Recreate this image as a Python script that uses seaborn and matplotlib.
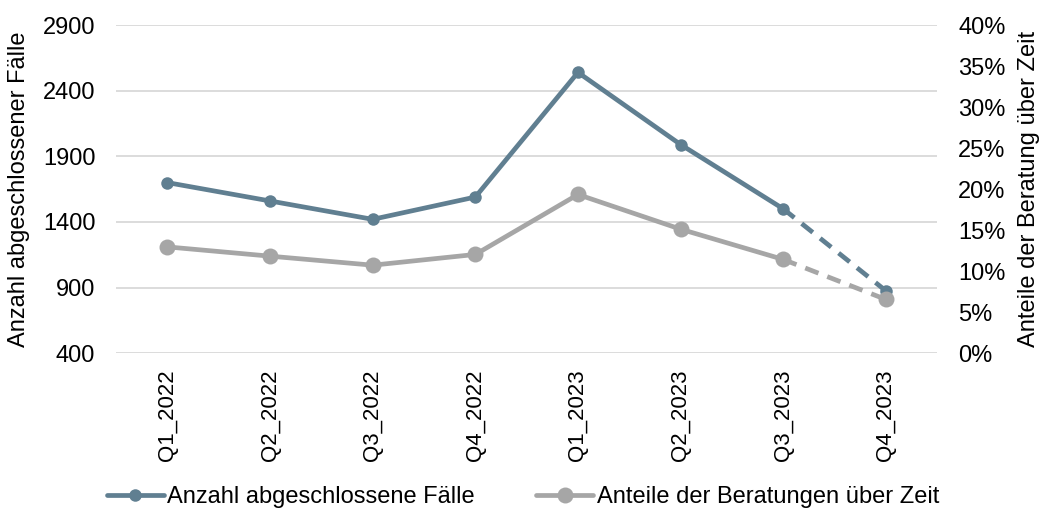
import pandas as pd
import seaborn as sns
import matplotlib.pyplot as plt
from matplotlib.ticker import FuncFormatter

# data
quarters = ['Q1_2022', 'Q2_2022', 'Q3_2022', 'Q4_2022',
            'Q1_2023', 'Q2_2023', 'Q3_2023', 'Q4_2023']
faelle = [1700, 1560, 1420, 1590, 2540, 1990, 1500, 875]
anteile = [12.96, 11.83, 10.73, 12.04, 19.35, 15.12, 11.43, 6.55]

blue = '#607F91'
grey = '#A6A6A6'

df = pd.DataFrame({'quarter': quarters, 'faelle': faelle, 'anteile': anteile})
df_solid = df.iloc[:7]
df_dash = df.iloc[6:]

sns.set_theme(style='white')
plt.rcParams['font.family'] = ['Liberation Sans', 'DejaVu Sans']
plt.rcParams['text.color'] = 'black'
plt.rcParams['axes.labelcolor'] = 'black'
plt.rcParams['xtick.color'] = 'black'
plt.rcParams['ytick.color'] = 'black'

fs = 17

fig, ax = plt.subplots(figsize=(10.46, 5.24), dpi=100)
fig.subplots_adjust(left=0.111, right=0.896, top=0.952, bottom=0.326)

# left axis: closed cases
sns.lineplot(data=df_solid, x='quarter', y='faelle', ax=ax, color=blue,
             linewidth=3.4, marker='o', markersize=9, markeredgewidth=0,
             sort=False, label='Anzahl abgeschlossene Fälle', legend=False)
sns.lineplot(data=df_dash, x='quarter', y='faelle', ax=ax, color=blue,
             linewidth=3.4, linestyle=(0, (3, 2)), marker='o', markersize=9,
             markeredgewidth=0, sort=False, legend=False,
             markevery=[1])

# right axis: share of consultations
ax2 = ax.twinx()
sns.lineplot(data=df_solid, x='quarter', y='anteile', ax=ax2, color=grey,
             linewidth=3.4, marker='o', markersize=11.5, markeredgewidth=0,
             sort=False, label='Anteile der Beratungen über Zeit', legend=False)
sns.lineplot(data=df_dash, x='quarter', y='anteile', ax=ax2, color=grey,
             linewidth=3.4, linestyle=(0, (3, 2)), marker='o', markersize=11.5,
             markeredgewidth=0, sort=False, legend=False,
             markevery=[1])

ax.set_ylim(400, 2900)
ax.set_yticks(range(400, 2901, 500))
ax.set_xlim(-0.5, 7.5)
ax.yaxis.grid(True, color='#D9D9D9', linewidth=1.3)
ax.xaxis.grid(False)
ax.set_xlabel('')
ax.set_ylabel('Anzahl abgeschlossener Fälle', fontsize=fs, labelpad=9)
ax.tick_params(axis='x', rotation=90, labelsize=16, pad=12, length=0)
ax.tick_params(axis='y', labelsize=fs, length=0, pad=15)

ax2.set_ylim(0, 40)
ax2.set_yticks(range(0, 41, 5))
ax2.yaxis.set_major_formatter(FuncFormatter(lambda v, p: '{:.0f}%'.format(v)))
ax2.set_ylabel('Anteile der Beratung über Zeit', fontsize=fs, labelpad=9)
ax2.tick_params(axis='y', labelsize=fs, length=0, pad=15)
ax2.grid(False)

for a in (ax, ax2):
    for s in a.spines.values():
        s.set_visible(False)

h1, l1 = ax.get_legend_handles_labels()
h2, l2 = ax2.get_legend_handles_labels()
fig.legend(h1 + h2, l1 + l2, loc='lower center', bbox_to_anchor=(0.5, -0.01),
           ncol=2, frameon=False, fontsize=fs, handlelength=2.4,
           handletextpad=0.15, columnspacing=2.6)

fig.savefig('out.png', dpi=100)
